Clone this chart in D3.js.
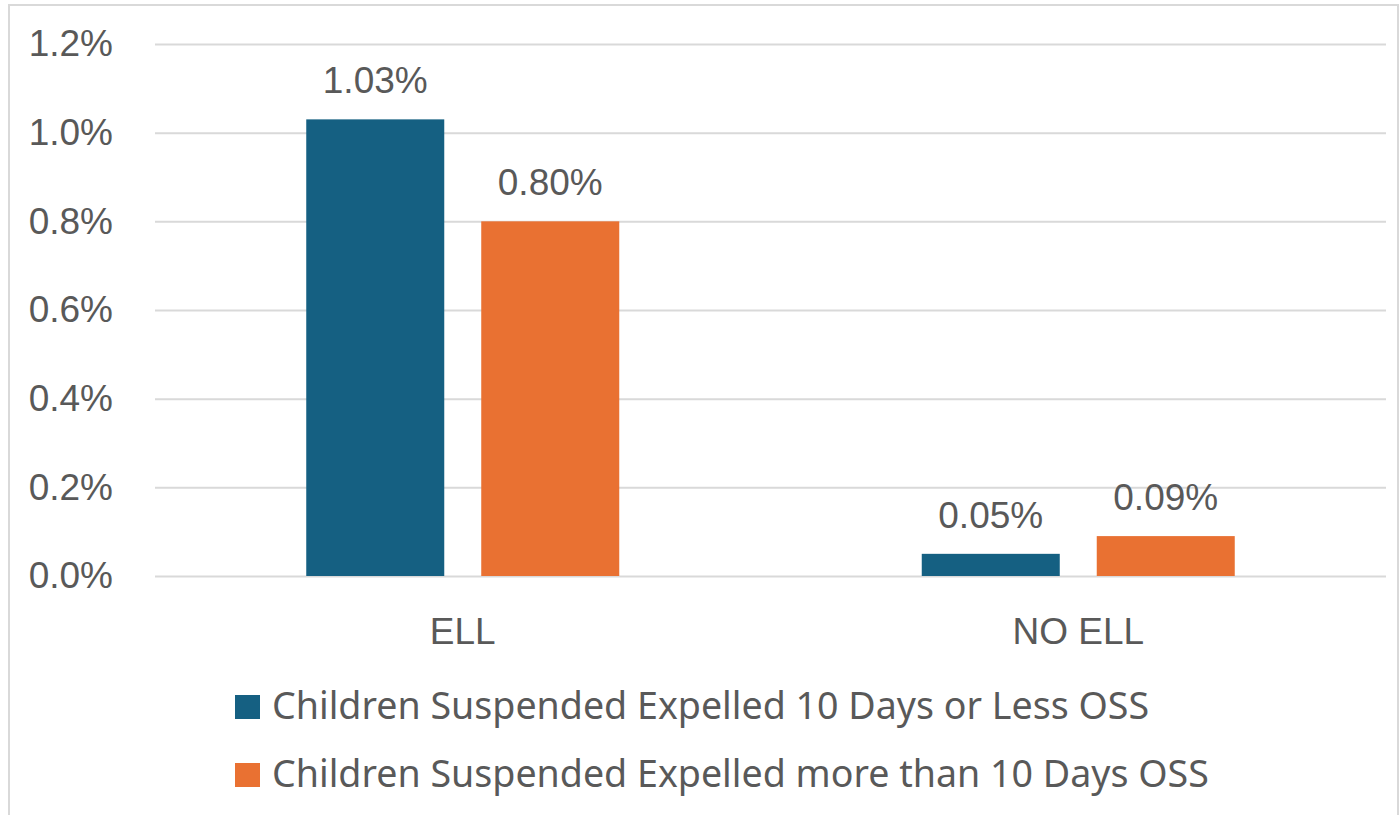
<!DOCTYPE html>
<html>
<head>
<meta charset="utf-8">
<script src="https://cdn.jsdelivr.net/npm/d3@7"></script>
<style>
  body { margin: 0; background: #fff; }
  svg text { fill: #595959; }
</style>
</head>
<body>
<div id="chart"></div>
<script>
// datos
var categorias = ["ELL", "NO ELL"];
var series = ["Children Suspended Expelled 10 Days or Less OSS", "Children Suspended Expelled more than 10 Days OSS"];
var valoresCorta = [1.03, 0.05];   // 10 dias o menos
var valoresLarga = [0.80, 0.09];   // mas de 10 dias
var ticksY = [0, 0.2, 0.4, 0.6, 0.8, 1.0, 1.2];
var colores = ["#156082", "#E97132"];

chart();

function chart(){
	var W = 1399, H = 815;
	var margin = {top: 44, left: 155, right: 13, bottom: 239};
	var ancho = W - margin.left - margin.right;
	var alto = H - margin.top - margin.bottom;

	var svg0 = d3.select("#chart").append("svg")
		.attr("width", W).attr("height", H);

	// borde del grafico
	svg0.append("rect")
		.attr("x", 9).attr("y", 5)
		.attr("width", 1389).attr("height", 830)
		.style("fill", "none").style("stroke", "#d9d9d9").style("stroke-width", 2);

	var svg = svg0.append("g")
		.attr("transform", "translate(" + margin.left + "," + margin.top + ")");

	var datos = categorias.map(function(c, i){
		return {cat: c, vals: [valoresCorta[i], valoresLarga[i]]};
	});

	var escalaX = d3.scaleBand().domain(categorias).range([0, ancho]).padding(0);
	var grupo = 313;
	var escalaSub = d3.scaleBand().domain(d3.range(series.length)).range([0, grupo]).paddingInner(0.2114).paddingOuter(0);
	var escalaY = d3.scaleLinear().domain([0, 1.2]).range([alto, 0]);

	// eje y con rejilla
	var ejeY = svg.append("g")
		.call(d3.axisLeft(escalaY).tickValues(ticksY).tickSize(-ancho).tickPadding(42)
			.tickFormat(function(d){ return d3.format(".1f")(d) + "%"; }));
	ejeY.select(".domain").remove();
	ejeY.selectAll("line").style("stroke", "#d9d9d9").style("stroke-width", 2);
	ejeY.selectAll("text")
		.style("font-family", "'Liberation Sans', Arial, sans-serif")
		.style("font-size", "37px")
		.style("fill", "#595959")
		.attr("dy", "0.32em");

	// barras
	var grupos = svg.selectAll(".grupo").data(datos).enter().append("g")
		.attr("transform", function(d){
			return "translate(" + (escalaX(d.cat) + (escalaX.bandwidth() - grupo) / 2) + ",0)";
		});

	grupos.selectAll("rect")
		.data(function(d){ return d.vals.map(function(v, j){ return {v: v, j: j}; }); })
		.enter().append("rect")
		.attr("x", function(d){ return escalaSub(d.j); })
		.attr("y", function(d){ return escalaY(d.v); })
		.attr("width", escalaSub.bandwidth())
		.attr("height", function(d){ return escalaY(0) - escalaY(d.v); })
		.style("fill", function(d){ return colores[d.j]; });

	grupos.selectAll(".etiqueta")
		.data(function(d){ return d.vals.map(function(v, j){ return {v: v, j: j}; }); })
		.enter().append("text")
		.attr("x", function(d){ return escalaSub(d.j) + escalaSub.bandwidth() / 2; })
		.attr("y", function(d){ return escalaY(d.v) - 26; })
		.attr("text-anchor", "middle")
		.style("font-family", "'Liberation Sans', Arial, sans-serif")
		.style("font-size", "37px")
		.text(function(d){ return d3.format(".2f")(d.v) + "%"; });

	// etiquetas de categoria
	svg.selectAll(".cat").data(categorias).enter().append("text")
		.attr("x", function(d){ return escalaX(d) + escalaX.bandwidth() / 2; })
		.attr("y", alto + 68)
		.attr("text-anchor", "middle")
		.style("font-family", "'Liberation Sans', Arial, sans-serif")
		.style("font-size", "37px")
		.text(function(d){ return d; });

	// leyenda
	var leyenda = svg0.selectAll(".ley").data(series).enter().append("g")
		.attr("transform", function(d, i){ return "translate(235," + (695 + i * 68) + ")"; });
	leyenda.append("rect")
		.attr("width", 25).attr("height", 24)
		.style("fill", function(d, i){ return colores[i]; });
	leyenda.append("text")
		.attr("x", 37).attr("y", 24)
		.style("font-family", "'Noto Sans', sans-serif")
		.style("font-size", "37.6px")
		.text(function(d){ return d; });
}
</script>
</body>
</html>
